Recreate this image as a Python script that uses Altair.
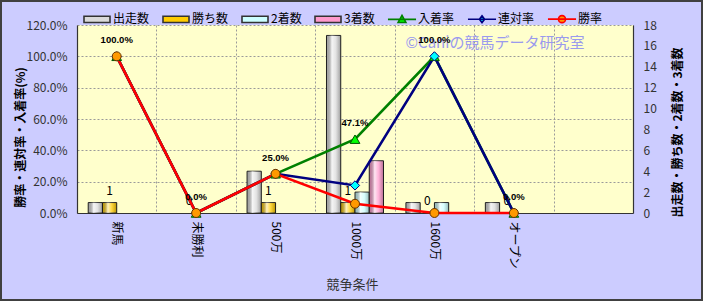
import altair as alt
import pandas as pd

# ---------------- data ----------------
categories = ["新馬", "未勝利", "500万", "1000万", "1600万", "オープン"]
x_domain = categories + [" "]

bar_series = ["出走数", "勝ち数", "2着数", "3着数"]
starts = [1, 0, 4, 17, 1, 1]
wins = [1, 0, 1, 1, 0, 0]
seconds = [0, 0, 0, 2, 1, 0]
thirds = [0, 0, 0, 5, 0, 0]

rate_series = ["入着率", "連対率", "勝率"]
show_rate = [1.0, 0.0, 0.25, 0.471, 1.0, 0.0]
ren_rate = [1.0, 0.0, 0.25, 0.176, 1.0, 0.0]
win_rate = [1.0, 0.0, 0.25, 0.059, 0.0, 0.0]

left_ticks = [0, 0.2, 0.4, 0.6, 0.8, 1.0, 1.2]
right_ticks = [0, 2, 4, 6, 8, 10, 12, 14, 16, 18]

all_series = bar_series + rate_series
fill_colors = ["#DADADA", "#FFCC00", "#CCFFFF", "#FF99CC", "#00FF00", "#00FFFF", "#FF9900"]
stroke_colors = ["#333333", "#333333", "#333333", "#333333", "#008000", "#000080", "#FF0000"]
legend_shapes = [
    "M-1,-0.24H1V0.24H-1Z",
    "M-1,-0.24H1V0.24H-1Z",
    "M-1,-0.24H1V0.24H-1Z",
    "M-1,-0.24H1V0.24H-1Z",
    "M-1.08,0H1.08M0,-0.3L0.3,0.24H-0.3Z",
    "M-1.08,0H1.08M0,-0.26L0.2,0L0,0.26L-0.2,0Z",
    "M-1.08,0H1.08M0.27,0A0.27,0.27 0 1 1 -0.27,0A0.27,0.27 0 1 1 0.27,0Z",
]

FONT = "Noto Sans CJK JP"

bar_rows = []
for s, vals in zip(bar_series, [starts, wins, seconds, thirds]):
    for c, v in zip(categories, vals):
        bar_rows.append({"条件": c, "系列": s, "件数": v})
bars_df = pd.DataFrame(bar_rows)

rate_rows = []
for s, vals in zip(rate_series, [show_rate, ren_rate, win_rate]):
    for c, v in zip(categories, vals):
        rate_rows.append({"条件": c, "系列": s, "率": v})
rates_df = pd.DataFrame(rate_rows)

legend_df = pd.DataFrame({"系列": all_series, "条件": categories + ["新馬"], "率": [0.0] * 7})
one_df = pd.DataFrame({"a": [0]})

# ---------------- shared encodings ----------------
x_enc = alt.X(
    "条件:N",
    scale=alt.Scale(domain=x_domain, paddingInner=0, paddingOuter=0),
    axis=alt.Axis(
        title="競争条件", labelAngle=90, labelAlign="left", labelBaseline="middle",
        labelFont=FONT, labelFontSize=12, labelColor="#000000", labelPadding=8,
        ticks=False, domainColor="#333333", domainWidth=1.2,
        grid=True, gridColor="#9a9a9a", gridDash=[2, 2], gridWidth=1, tickBand="extent",
        titleFont=FONT, titleFontSize=13, titleFontWeight="normal", titleColor="#333333",
        titleX=275, titleY=71, titleAlign="center", titleBaseline="middle",
    ),
)
xoff_enc = alt.XOffset(
    "系列:N", scale=alt.Scale(domain=bar_series, paddingInner=0, paddingOuter=0.786)
)

y_right = alt.Y(
    "件数:Q", scale=alt.Scale(domain=[0, 18], nice=False, zero=True),
    axis=alt.Axis(
        orient="right", values=right_ticks, grid=False, ticks=False, labelPadding=10,
        labelFont=FONT, labelFontSize=12, labelColor="#333333",
        domainColor="#333333", domainWidth=1.2,
        title="出走数・勝ち数・2着数・3着数", titleAngle=270, titleFont=FONT,
        titleFontSize=12, titleFontWeight="bold", titleColor="#000000",
        titleX=44, titleY=107, titleAlign="center", titleBaseline="middle",
    ),
)
y_left = alt.Y(
    "率:Q", scale=alt.Scale(domain=[0, 1.2], nice=False, zero=True),
    axis=alt.Axis(
        orient="left", values=left_ticks, format=".1%", ticks=False, labelPadding=10,
        labelFont=FONT, labelFontSize=12, labelColor="#333333",
        domainColor="#333333", domainWidth=1.2,
        grid=True, gridColor="#9a9a9a", gridDash=[2, 2], gridWidth=1,
        title="勝率・連対率・入着率(%)", titleAngle=270, titleFont=FONT,
        titleFontSize=12, titleFontWeight="bold", titleColor="#000000",
        titleX=-57, titleY=112, titleAlign="center", titleBaseline="middle",
    ),
)

leg = alt.Legend(
    orient="none", legendX=6, legendY=-20, direction="horizontal", title=None,
    labelFont=FONT, labelFontSize=12, labelColor="#000000", labelOffset=2,
    columnPadding=9, symbolSize=676, symbolOpacity=1, symbolStrokeWidth=1.6,
)
fill_enc = alt.Fill("系列:N", scale=alt.Scale(domain=all_series, range=fill_colors), legend=leg)
stroke_enc = alt.Stroke("系列:N", scale=alt.Scale(domain=all_series, range=stroke_colors), legend=leg)
shape_enc = alt.Shape("系列:N", scale=alt.Scale(domain=all_series, range=legend_shapes), legend=leg)

bar_gradient = alt.Gradient(
    gradient="linear", x1=0, x2=1, y1=0, y2=0,
    stops=[
        alt.GradientStop(color="rgba(0,0,0,0.22)", offset=0),
        alt.GradientStop(color="rgba(255,255,255,0.75)", offset=0.38),
        alt.GradientStop(color="rgba(255,255,255,0.25)", offset=0.65),
        alt.GradientStop(color="rgba(0,0,0,0.28)", offset=1),
    ],
)

# ---------------- layer A: bars (right axis) ----------------
frame = alt.Chart(one_df).mark_rect(fill="transparent", stroke="#404040", strokeWidth=2).encode(
    x=alt.value(-76), x2=alt.value(625), y=alt.value(-24), y2=alt.value(275)
)

bars = alt.Chart(bars_df).transform_filter("datum['件数'] > 0").mark_bar(
    stroke="#222222", strokeWidth=1
).encode(x=x_enc, xOffset=xoff_enc, y=y_right, fill=fill_enc)

bars_shine = alt.Chart(bars_df).transform_filter("datum['件数'] > 0").mark_bar(
    fill=bar_gradient, strokeWidth=0
).encode(x=x_enc, xOffset=xoff_enc, y=y_right)

win_labels = alt.Chart(bars_df).transform_filter("datum['系列'] == '勝ち数'").mark_text(
    font=FONT, fontSize=12, color="#000000", dy=-8, baseline="alphabetic"
).encode(x=x_enc, xOffset=xoff_enc, y=y_right, text=alt.Text("件数:Q"))

layer_a = alt.layer(frame, bars, bars_shine, win_labels)

# ---------------- layer B: rates (left axis) ----------------
watermark = alt.Chart(one_df).mark_text(
    text="©Caniの競馬データ研究室", font=FONT, fontSize=15, color="#9A9AEE", align="center",
    baseline="middle",
).encode(x=alt.value(418), y=alt.value(18))


def rate_line(name):
    return alt.Chart(rates_df).transform_filter(f"datum['系列'] == '{name}'").mark_line(
        strokeWidth=2.6
    ).encode(x=x_enc, y=y_left, stroke=stroke_enc)


def rate_points(name, shape, fill, stroke, size):
    return alt.Chart(rates_df).transform_filter(f"datum['系列'] == '{name}'").mark_point(
        shape=shape, filled=True, fill=fill, stroke=stroke, strokeWidth=1, size=size, opacity=1
    ).encode(x=x_enc, y=y_left)


lines = [rate_line("入着率"), rate_line("連対率"), rate_line("勝率")]
points = [
    rate_points("入着率", "triangle-up", "#00FF00", "#005500", 95),
    rate_points("連対率", "diamond", "#00FFFF", "#000080", 85),
    rate_points("勝率", "circle", "#FF9900", "#663300", 80),
]

rate_labels = alt.Chart(rates_df).transform_filter("datum['系列'] == '入着率'").mark_text(
    font="Liberation Sans", fontSize=9.5, fontWeight="bold", color="#000000", dy=-13,
    baseline="alphabetic",
).encode(x=x_enc, y=y_left, text=alt.Text("率:Q", format=".1%"))

legend_layer = alt.Chart(legend_df).transform_filter("false").mark_point(filled=True).encode(
    x=x_enc, y=y_left, fill=fill_enc, stroke=stroke_enc, shape=shape_enc
)

layer_b = alt.layer(watermark, *lines, *points, rate_labels, legend_layer)

chart = alt.layer(layer_a, layer_b).resolve_scale(y="independent").properties(
    width=556,
    height=188,
    padding={"left": 77, "top": 25, "right": 70, "bottom": 88},
    autosize=alt.AutoSizeParams(type="none"),
    background="#CCCCFF",
).configure_view(fill="#FFFFCC", stroke=None)

chart.save("out.html", embed_options={"renderer": "svg", "actions": False})
